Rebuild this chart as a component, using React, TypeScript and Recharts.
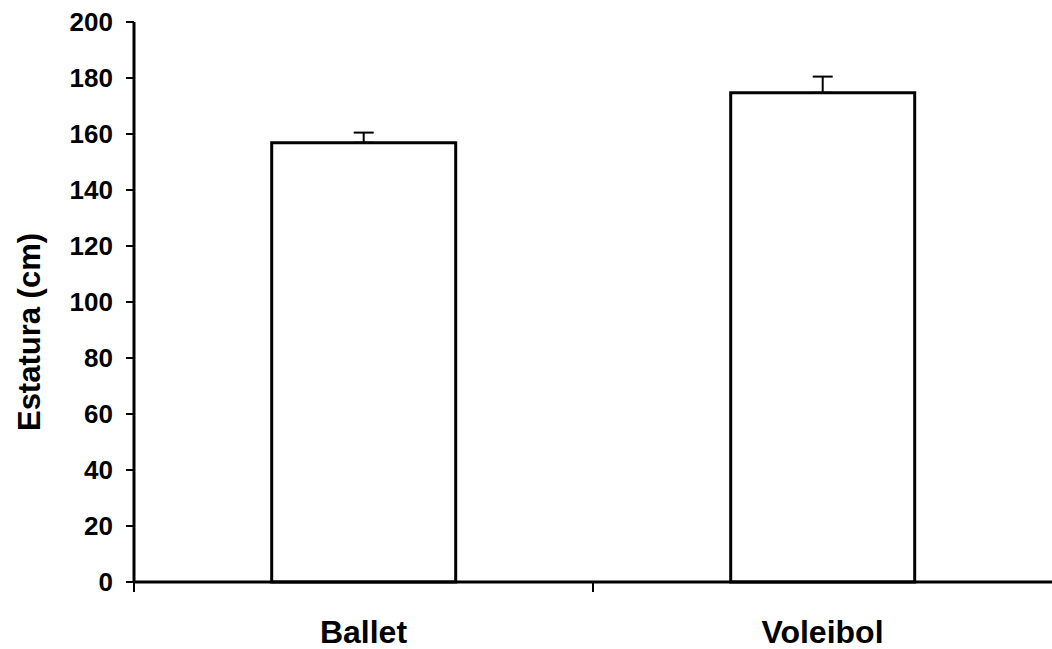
import { BarChart, Bar, XAxis, YAxis, ErrorBar } from "recharts";

const groups = ["Ballet", "Voleibol"];
const heights = [156.9, 174.7];
const upperErrors = [3.6, 5.8];
const yTicks = [0, 20, 40, 60, 80, 100, 120, 140, 160, 180, 200];

const data = groups.map((name, i) => ({
  name,
  estatura: heights[i],
  err: [0, upperErrors[i]],
}));

const font = "'Liberation Sans', Arial, sans-serif";
const chartWidth = 1052;
const axisWidth = 134;
const halfBand = (chartWidth - axisWidth) / groups.length / 2;

const YLabel = (props: any) => {
  const vb = props.viewBox || {};
  const cy = (vb.y ?? 0) + (vb.height ?? 0) / 2 + 30;
  return (
    <text
      x={29}
      y={cy}
      transform={`rotate(-90, 29, ${cy})`}
      textAnchor="middle"
      dominantBaseline="central"
      fontFamily={font}
      fontWeight="bold"
      fontSize={31}
      fill="#000"
    >
      Estatura (cm)
    </text>
  );
};

// category ticks sit on the band boundaries, labels in the middle
const XTick = (props: any) => {
  const { x, y, payload } = props;
  const edge = x - halfBand;
  return (
    <g>
      <line x1={edge} x2={edge} y1={y - 2} y2={y + 8} stroke="#000" strokeWidth={2} />
      <text
        x={x}
        y={y + 59}
        textAnchor="middle"
        fontFamily={font}
        fontWeight="bold"
        fontSize={32}
        fill="#000"
      >
        {payload.value}
      </text>
    </g>
  );
};

export default function App() {
  return (
    <div style={{ position: "absolute", left: 0, top: 0, background: "#fff" }}>
      <BarChart
        width={chartWidth}
        height={649}
        data={data}
        margin={{ top: 22, right: 0, bottom: 0, left: 0 }}
        barCategoryGap="30%"
      >
        <XAxis
          dataKey="name"
          height={67}
          axisLine={{ stroke: "#000", strokeWidth: 3 }}
          tickLine={false}
          tickSize={0}
          interval={0}
          tick={<XTick />}
        />
        <YAxis
          width={axisWidth}
          domain={[0, 200]}
          ticks={yTicks}
          interval={0}
          axisLine={{ stroke: "#000", strokeWidth: 3 }}
          tickLine={{ stroke: "#000", strokeWidth: 2 }}
          tickSize={8}
          tick={{ fill: "#000", fontFamily: font, fontWeight: "bold", fontSize: 26, dx: -11 }}
          label={<YLabel />}
        />
        <Bar
          dataKey="estatura"
          fill="#fff"
          stroke="#000"
          strokeWidth={3}
          isAnimationActive={false}
        >
          <ErrorBar
            dataKey="err"
            direction="y"
            width={10}
            stroke="#000"
            strokeWidth={2}
            isAnimationActive={false}
          />
        </Bar>
      </BarChart>
    </div>
  );
}
